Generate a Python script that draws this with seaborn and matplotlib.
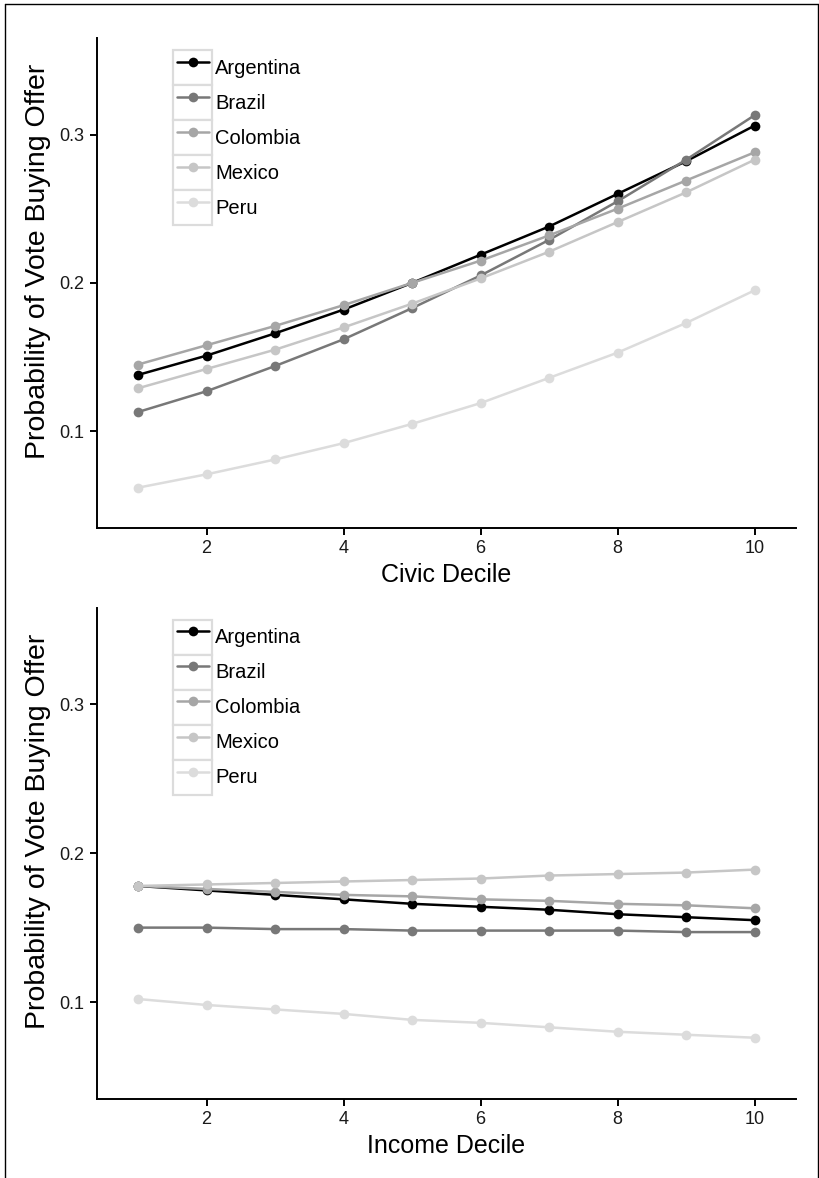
import matplotlib
matplotlib.use("Agg")
import matplotlib.pyplot as plt
import numpy as np
import seaborn as sns
import pandas as pd
from matplotlib.lines import Line2D
from matplotlib.patches import Rectangle
from matplotlib.legend_handler import HandlerLine2D

# datos
deciles = [1, 2, 3, 4, 5, 6, 7, 8, 9, 10]
paises = ["Argentina", "Brazil", "Colombia", "Mexico", "Peru"]
colores = ["#000000", "#787878", "#a6a6a6", "#c6c6c6", "#dcdcdc"]

civic_argentina = [0.138, 0.151, 0.166, 0.182, 0.200, 0.219, 0.238, 0.260, 0.282, 0.306]
civic_brazil = [0.113, 0.127, 0.144, 0.162, 0.183, 0.205, 0.229, 0.255, 0.283, 0.313]
civic_colombia = [0.145, 0.158, 0.171, 0.185, 0.200, 0.215, 0.232, 0.250, 0.269, 0.288]
civic_mexico = [0.129, 0.142, 0.155, 0.170, 0.186, 0.203, 0.221, 0.241, 0.261, 0.283]
civic_peru = [0.062, 0.071, 0.081, 0.092, 0.105, 0.119, 0.136, 0.153, 0.173, 0.195]

income_argentina = [0.178, 0.175, 0.172, 0.169, 0.166, 0.164, 0.162, 0.159, 0.157, 0.155]
income_brazil = [0.150, 0.150, 0.149, 0.149, 0.148, 0.148, 0.148, 0.148, 0.147, 0.147]
income_colombia = [0.178, 0.176, 0.174, 0.172, 0.171, 0.169, 0.168, 0.166, 0.165, 0.163]
income_mexico = [0.178, 0.179, 0.180, 0.181, 0.182, 0.183, 0.185, 0.186, 0.187, 0.189]
income_peru = [0.102, 0.098, 0.095, 0.092, 0.088, 0.086, 0.083, 0.080, 0.078, 0.076]

civic = [civic_argentina, civic_brazil, civic_colombia, civic_mexico, civic_peru]
income = [income_argentina, income_brazil, income_colombia, income_mexico, income_peru]


def armar_df(series):
    filas = []
    for p, vals in zip(paises, series):
        for d, v in zip(deciles, vals):
            filas.append({"Decile": d, "Prob": v, "Country": p})
    return pd.DataFrame(filas)


class HandlerCaja(HandlerLine2D):
    # linea de leyenda con un cuadro gris detras, estilo ggplot
    def create_artists(self, legend, orig_handle, xdescent, ydescent,
                       width, height, fontsize, trans):
        caja = Rectangle((-xdescent, -ydescent), width, height,
                         facecolor="white", edgecolor="#dcdcdc", lw=1.6,
                         transform=trans)
        arts = super().create_artists(legend, orig_handle, xdescent, ydescent,
                                      width, height, fontsize, trans)
        p = 0.1 * width
        yc = arts[0].get_ydata()[0]
        x0 = -xdescent
        arts[0].set_data([x0 + p, x0 + width / 2, x0 + width - p], [yc, yc, yc])
        arts[0].set_markevery([1])
        return [caja] + list(arts)


sns.set_style("white")
plt.rcParams["font.family"] = ["Liberation Sans", "DejaVu Sans"]
plt.rcParams["text.color"] = "black"
plt.rcParams["axes.labelcolor"] = "black"

fig = plt.figure(figsize=(8.19, 11.78), dpi=100)
ax1 = fig.add_axes([0.1184, 0.552, 0.8532, 0.4157])
ax2 = fig.add_axes([0.1184, 0.0673, 0.8532, 0.4168])

for ax, series, xlab in [(ax1, civic, "Civic Decile"), (ax2, income, "Income Decile")]:
    df = armar_df(series)
    sns.lineplot(data=df, x="Decile", y="Prob", hue="Country", hue_order=paises,
                 palette=colores, marker="o", markersize=7, markeredgewidth=0,
                 linewidth=1.8, ax=ax, legend=False)
    ax.set_xlim(0.4, 10.6)
    ax.set_ylim(0.035, 0.365)
    ax.set_xticks([2, 4, 6, 8, 10])
    ax.set_yticks([0.1, 0.2, 0.3])
    ax.set_yticklabels(["0.1", "0.2", "0.3"])
    for s in ["top", "right"]:
        ax.spines[s].set_visible(False)
    for s in ["left", "bottom"]:
        ax.spines[s].set_color("black")
        ax.spines[s].set_linewidth(1.4)
    ax.tick_params(axis="both", direction="out", length=5, width=1.4,
                   colors="black", labelsize=13, labelcolor="#1a1a1a", pad=4,
                   bottom=True, left=True)
    ax.set_xlabel(xlab, fontsize=18, labelpad=4)
    ax.set_ylabel("Probability of Vote Buying Offer", fontsize=20.5)
    ax.yaxis.set_label_coords(-0.066, 0.544)

    handles = [Line2D([], [], color=c, marker="o", markersize=7,
                      markeredgewidth=0, linewidth=1.8) for c in colores]
    leg = ax.legend(handles, paises, loc="upper left",
                    bbox_to_anchor=(0.1088, 0.976), frameon=False,
                    fontsize=14.5, handlelength=1.96, handleheight=2.3,
                    labelspacing=0.0, handletextpad=0.12, borderpad=0,
                    borderaxespad=0, labelcolor="black",
                    handler_map={Line2D: HandlerCaja(numpoints=1)})

# marco exterior (sin linea inferior)
for xs, ys in [([0.0055, 0.0055], [0.0, 0.9966]),
               ([0.0055, 0.9985], [0.9966, 0.9966]),
               ([0.9985, 0.9985], [0.0, 0.9966])]:
    fig.add_artist(Line2D(xs, ys, color="black", lw=1.0, transform=fig.transFigure))

plt.savefig("out.png", dpi=100)
